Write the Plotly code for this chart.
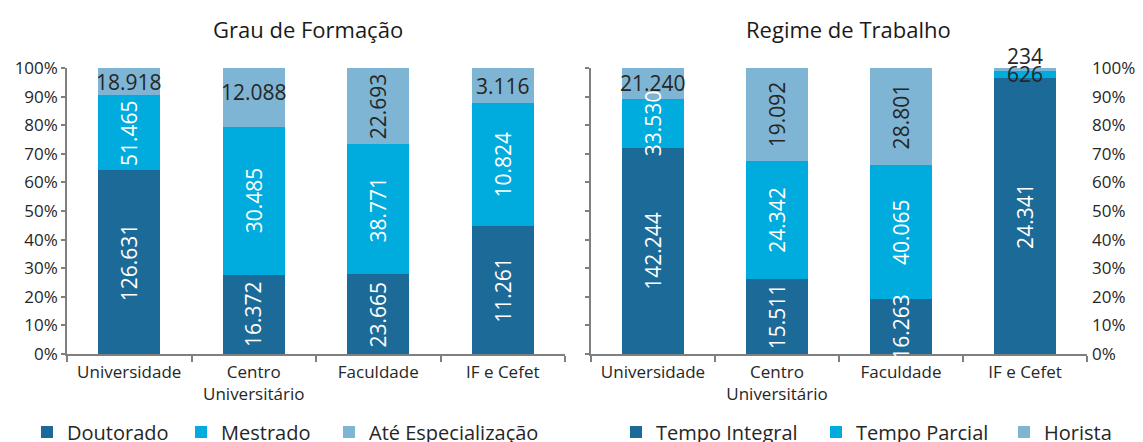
import plotly.graph_objects as go

categories = ["Universidade", "Centro<br>Universitário", "Faculdade", "IF e Cefet"]

# Grau de Formação
doutorado = [126631, 16372, 23665, 11261]
mestrado = [51465, 30485, 38771, 10824]
especializacao = [18918, 12088, 22693, 3116]

# Regime de Trabalho
integral = [142244, 15511, 16263, 24341]
parcial = [33530, 24342, 40065, 626]
horista = [21240, 19092, 28801, 234]

y_ticks = [0, 10, 20, 30, 40, 50, 60, 70, 80, 90, 100]
y_tick_text = [f"{t}%" for t in y_ticks]

C_DARK = "#1B6A97"
C_MID = "#00ABDD"
C_LIGHT = "#7FB5D4"
FONT = "Open Sans"
TXT = "#262626"
AX = "#7F7F7F"
W, H = 1143, 442

fig = go.Figure()

left = [("Doutorado", doutorado, C_DARK), ("Mestrado", mestrado, C_MID),
        ("Até Especialização", especializacao, C_LIGHT)]
right = [("Tempo Integral", integral, C_DARK), ("Tempo Parcial", parcial, C_MID),
         ("Horista", horista, C_LIGHT)]

# legend box x positions (pixels) for each entry
legend_x_left = [27, 181, 329]
legend_x_right = [616, 816, 1004]

legend_layout = {}
k = 0
for (name, vals, col), lx in zip(left, legend_x_left):
    k += 1
    lname = "legend" if k == 1 else f"legend{k}"
    fig.add_trace(go.Bar(x=categories, y=vals, name=name, marker_color=col,
                         marker_line_width=0, xaxis="x", yaxis="y", legend=lname,
                         width=0.5))
    legend_layout[lname] = dict(orientation="h", x=lx / W, xanchor="left",
                                y=(H - 432) / H, yanchor="middle",
                                font=dict(family=FONT, size=20, color=TXT),
                                bgcolor="rgba(0,0,0,0)")
for (name, vals, col), lx in zip(right, legend_x_right):
    k += 1
    lname = f"legend{k}"
    fig.add_trace(go.Bar(x=categories, y=vals, name=name, marker_color=col,
                         marker_line_width=0, xaxis="x2", yaxis="y2", legend=lname,
                         width=0.5))
    legend_layout[lname] = dict(orientation="h", x=lx / W, xanchor="left",
                                y=(H - 432) / H, yanchor="middle",
                                font=dict(family=FONT, size=20, color=TXT),
                                bgcolor="rgba(0,0,0,0)")

# invisible trace to hold the left-side line of the right panel
fig.add_trace(go.Scatter(x=categories, y=[None] * 4, xaxis="x2", yaxis="y3",
                         showlegend=False, hoverinfo="skip"))

# label orientation: True = horizontal
horiz_left = {(0, 2), (1, 2), (3, 2)}
horiz_right = {(0, 2), (3, 1), (3, 2)}


def fmt(v):
    return f"{v:,}".replace(",", ".")


annotations = []


def add_labels(series, xref, yref, horiz, is_right):
    n = len(categories)
    for i in range(n):
        total = sum(s[1][i] for s in series)
        cum = 0
        for j, (name, vals, col) in enumerate(series):
            v = vals[i]
            lo = cum / total * 100
            cum += v
            hi = cum / total * 100
            mid = (lo + hi) / 2
            color = TXT if j == 2 else "white"
            ang = 0 if (i, j) in horiz else -90
            ann = dict(x=categories[i], y=mid, xref=xref, yref=yref, text=fmt(v),
                       showarrow=False, textangle=ang, yanchor="middle",
                       font=dict(family=FONT, size=21, color=color))
            if is_right and i == 3 and j == 2:
                ann.update(y=100, yanchor="bottom", yshift=-4)
            if is_right and i == 3 and j == 1:
                ann["font"]["color"] = TXT
            if (not is_right) and i == 1 and j == 2:
                ann["yshift"] = 5
            annotations.append(ann)


add_labels(left, "x", "y", horiz_left, False)
add_labels(right, "x2", "y2", horiz_right, True)

annotations.append(dict(text="Grau de Formação", x=308 / W, y=(H - 29) / H,
                        xref="paper", yref="paper", showarrow=False,
                        xanchor="center", yanchor="middle",
                        font=dict(family=FONT, size=22, color="#1a1a1a")))
annotations.append(dict(text="Regime de Trabalho", x=848 / W, y=(H - 29) / H,
                        xref="paper", yref="paper", showarrow=False,
                        xanchor="center", yanchor="middle",
                        font=dict(family=FONT, size=22, color="#1a1a1a")))

ydom = [(H - 354) / H, (H - 68) / H]
xaxis_common = dict(showline=True, linecolor=AX, linewidth=1.5, ticks="outside",
                    tickson="boundaries", ticklen=6, tickcolor=AX, tickwidth=1.5,
                    tickfont=dict(family=FONT, size=17, color=TXT), showgrid=False,
                    type="category", fixedrange=True, ticklabelstandoff=2)
yaxis_common = dict(range=[0, 100], tickvals=y_ticks, ticktext=y_tick_text, showgrid=False,
                    zeroline=False, tickfont=dict(family=FONT, size=17, color=TXT),
                    domain=ydom, fixedrange=True)

fig.update_layout(
    width=W, height=H,
    margin=dict(l=0, r=0, t=0, b=0, autoexpand=False),
    paper_bgcolor="white", plot_bgcolor="white",
    barmode="stack", barnorm="percent",
    xaxis=dict(domain=[67 / W, 565 / W], anchor="y", **xaxis_common),
    xaxis2=dict(domain=[591 / W, 1087 / W], anchor="y2", **xaxis_common),
    yaxis=dict(anchor="x", side="left", showline=True, linecolor=AX, linewidth=1.5,
               ticks="outside", ticklen=4, tickcolor=AX, tickwidth=1.5, **yaxis_common),
    yaxis2=dict(anchor="x2", side="right", showline=False, ticks="", ticklabelstandoff=4,
                **yaxis_common),
    yaxis3=dict(anchor="x2", overlaying="y2", side="left", showline=True, linecolor=AX,
                linewidth=1.5, ticks="outside", ticklen=4, tickcolor=AX, tickwidth=1.5,
                showticklabels=False, range=[0, 100], tickvals=y_ticks, showgrid=False,
                zeroline=False, fixedrange=True),
    annotations=annotations,
    showlegend=True,
    **legend_layout,
)

fig.write_html("out.html", post_script="document.body.style.margin='0';",
               config={"displayModeBar": False})
